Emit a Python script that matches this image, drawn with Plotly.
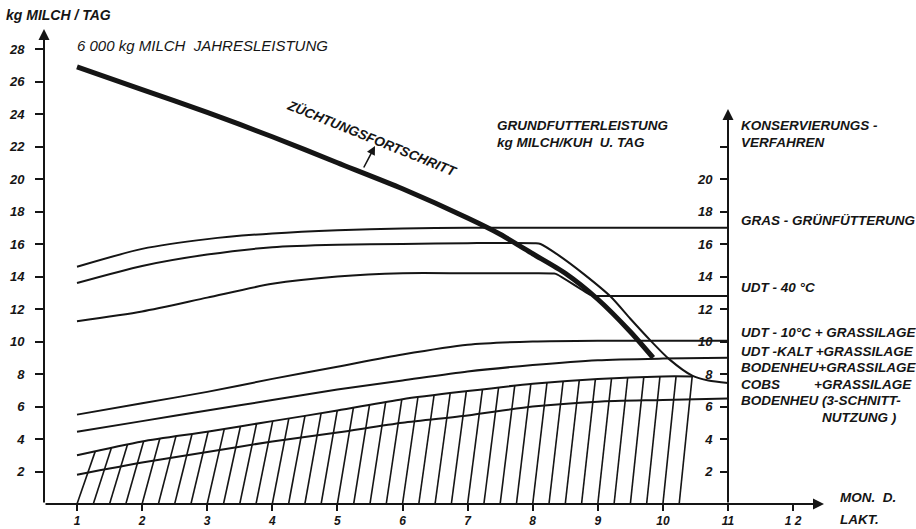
import numpy as np
import plotly.graph_objects as go

# ---------------- data ----------------
# Züchtungsfortschritt (thick line)
zf_x = [1, 2, 3, 4, 5, 6, 7, 7.5, 8, 8.5, 9, 9.5, 9.85]
zf_y = [26.9, 25.5, 24.1, 22.6, 21.0, 19.4, 17.6, 16.6, 15.4, 14.2, 12.6, 10.6, 9.0]

# Gras-Grünfütterung
a_x = [1, 2, 3, 4, 5, 6, 7, 8, 9, 10, 11]
a_y = [14.6, 15.7, 16.3, 16.65, 16.85, 16.95, 17.0, 17.0, 17.0, 17.0, 17.0]

# 16 kg line, dropping after month 8
b_x = [1, 2, 3, 4, 5, 6, 7, 8.05, 8.12, 8.4, 8.8, 9.2, 9.5, 9.8, 10.1, 10.45, 10.7, 11]
b_y = [13.6, 14.65, 15.35, 15.8, 15.95, 16.0, 16.05, 16.05, 16.0, 15.3, 14.1, 12.75, 11.4, 10.1, 8.9, 7.9, 7.6, 7.45]

# UDT - 40 °C
c_x = [1, 2, 3, 4, 5, 6, 7, 8, 8.33, 8.38, 8.9, 8.96, 9.1, 10, 11]
c_y = [11.25, 11.85, 12.7, 13.55, 14.0, 14.2, 14.2, 14.2, 14.18, 14.12, 12.85, 12.8, 12.8, 12.8, 12.8]

# UDT - 10 °C + Grassilage
d_x = [1, 2, 3, 4, 5, 6, 7, 8, 9, 10, 11]
d_y = [5.5, 6.2, 6.9, 7.7, 8.45, 9.2, 9.8, 10.0, 10.05, 10.05, 10.05]

# UDT - kalt + Grassilage
e_x = [1, 2, 3, 4, 5, 6, 7, 8, 9, 10, 11]
e_y = [4.45, 5.1, 5.75, 6.4, 7.05, 7.6, 8.15, 8.55, 8.85, 8.95, 9.0]

# Bodenheu + Grassilage (top of hatched area)
f_x = [1, 2, 3, 4, 5, 6, 7, 8, 9, 10, 10.46]
f_y = [3.0, 3.85, 4.45, 5.1, 5.75, 6.45, 6.95, 7.4, 7.7, 7.85, 7.85]

# Bodenheu (3-Schnitt-Nutzung)
g_x = [1, 2, 3, 4, 5, 6, 7, 8, 9, 10, 11]
g_y = [1.8, 2.55, 3.2, 3.85, 4.4, 5.0, 5.45, 6.0, 6.3, 6.4, 6.5]

x_ticks = [1, 2, 3, 4, 5, 6, 7, 8, 9, 10, 11, 12]
x_ticktext = ["1", "2", "3", "4", "5", "6", "7", "8", "9", "10", "11", "1 2"]
left_ticks = [2, 4, 6, 8, 10, 12, 14, 16, 18, 20, 22, 24, 26, 28]
right_ticks = [2, 4, 6, 8, 10, 12, 14, 16, 18, 20, 22]
right_ticktext = ["2", "4", "6", "8", "10", "12", "14", "16", "18", "20", ""]

# ---------------- geometry ----------------
W, H = 916, 529
ML, MB, MT = 44, 25, 0
PX_X = 65.1
PX_Y = 16.25
X0 = 1 - (77 - ML) / PX_X
X1 = X0 + (W - ML) / PX_X
Y1 = (H - MB - MT) / PX_Y


def px2x(px):
    return X0 + (px - ML) / PX_X


def py2y(py):
    return (H - MB - py) / PX_Y


def px2paper(px):
    return (px - ML) / (W - ML)


def py2paper(py):
    return (H - MB - py) / (H - MB - MT)


INK = "#151515"
FONT = "Liberation Sans, Arial, sans-serif"

fig = go.Figure()


def curve(xs, ys, width=2.0, shape="spline"):
    fig.add_trace(go.Scatter(x=xs, y=ys, mode="lines", hoverinfo="skip",
                             line=dict(color=INK, width=width, shape=shape, smoothing=0.7),
                             showlegend=False))


# hatching between x-axis and curve F
hb = np.arange(1.0, 10.26, 0.25)
off = np.interp(hb, [1, 10.25], [0.28, 0.2])
ht = hb + off
hty = np.interp(ht, f_x, f_y)
hx, hy = [], []
for b, t, ty in zip(hb, ht, hty):
    hx += [b, t, None]
    hy += [0, ty, None]
fig.add_trace(go.Scatter(x=hx, y=hy, mode="lines", hoverinfo="skip",
                         line=dict(color=INK, width=1.6), showlegend=False))

for xs, ys in [(a_x, a_y), (b_x, b_y), (c_x, c_y), (d_x, d_y), (e_x, e_y), (f_x, f_y), (g_x, g_y)]:
    curve(xs, ys)
curve(zf_x, zf_y, width=5)

# invisible trace for second axis
fig.add_trace(go.Scatter(x=[11], y=[0], yaxis="y2", mode="markers",
                         marker=dict(opacity=0), hoverinfo="skip", showlegend=False))

tfont = dict(family=FONT, size=13, color=INK, weight="bold", style="italic")
xfont = dict(family=FONT, size=12, color=INK, weight="bold", style="italic")

fig.update_layout(
    width=W, height=H,
    margin=dict(l=ML, r=0, t=MT, b=MB),
    paper_bgcolor="white", plot_bgcolor="white",
    xaxis=dict(range=[X0, X1], showgrid=False, zeroline=False, showline=False,
               tickvals=x_ticks, ticktext=x_ticktext, ticks="outside", ticklen=6,
               tickwidth=2, tickcolor=INK, tickfont=xfont, ticklabelstandoff=0,
               automargin=False, fixedrange=True),
    yaxis=dict(range=[0, Y1], showgrid=False, zeroline=False, showline=False,
               tickvals=left_ticks, ticks="outside", ticklen=8, tickwidth=2,
               tickcolor=INK, tickfont=tfont, ticklabelstandoff=8,
               automargin=False, fixedrange=True),
    yaxis2=dict(range=[0, Y1], overlaying="y", anchor="free",
                position=(11 - X0) / (X1 - X0), side="left",
                showgrid=False, zeroline=False, showline=False,
                tickvals=right_ticks, ticktext=right_ticktext, ticks="outside",
                ticklen=8, tickwidth=2, tickcolor=INK, tickfont=tfont,
                ticklabelstandoff=5, automargin=False, fixedrange=True),
)

ann = []


def arrow(x, y, ax, ay, w=2):
    ann.append(dict(x=x, y=y, ax=ax, ay=ay, xref="x", yref="y", axref="x", ayref="y",
                    text="", showarrow=True, arrowhead=2, arrowsize=1.1,
                    arrowwidth=w, arrowcolor=INK))


# axes with arrows
arrow(X0, py2y(29), X0, 0)
arrow(px2x(824), 0, X0, 0)
arrow(11, py2y(109), 11, 0)
# arrow to "Züchtungsfortschritt"
arrow(px2x(375), py2y(146), px2x(363), py2y(169), w=1.6)


def text(s, px, py, size=13.5, anchor="left", angle=0, bold=True):
    ann.append(dict(x=px2paper(px), y=py2paper(py), xref="paper", yref="paper", text=s,
                    showarrow=False, xanchor=anchor, yanchor="middle", textangle=angle,
                    borderpad=0,
                    font=dict(family=FONT, size=size, color=INK,
                              weight="bold" if bold else "normal", style="italic")))


text("kg MILCH / TAG", 5, 15, size=14)
text("6 000 kg MILCH  JAHRESLEISTUNG", 76, 45, size=15, bold=False)
text("ZÜCHTUNGSFORTSCHRITT", 372, 138, size=13.5, anchor="center", angle=22)
text("GRUNDFUTTERLEISTUNG", 496, 125)
text("kg MILCH/KUH  U. TAG", 496, 142)
text("KONSERVIERUNGS -", 740, 125)
text("VERFAHREN", 740, 142)
text("GRAS - GRÜNFÜTTERUNG", 740, 220)
text("UDT - 40 °C", 740, 287)
text("UDT - 10°C + GRASSILAGE", 740, 332)
text("UDT -KALT +GRASSILAGE", 740, 351)
text("BODENHEU+GRASSILAGE", 740, 367)
text("COBS", 740, 384)
text("+GRASSILAGE", 913, 384, anchor="right")
text("BODENHEU (3-SCHNITT-", 740, 400)
text("NUTZUNG )", 898, 417, anchor="right")
text("MON.  D.", 839, 497)
text("LAKT.", 839, 519)

fig.update_layout(annotations=ann)

fig.write_html("out.html", config={"displayModeBar": False},
               post_script="document.body.style.margin='0px';document.body.style.overflow='hidden';")
